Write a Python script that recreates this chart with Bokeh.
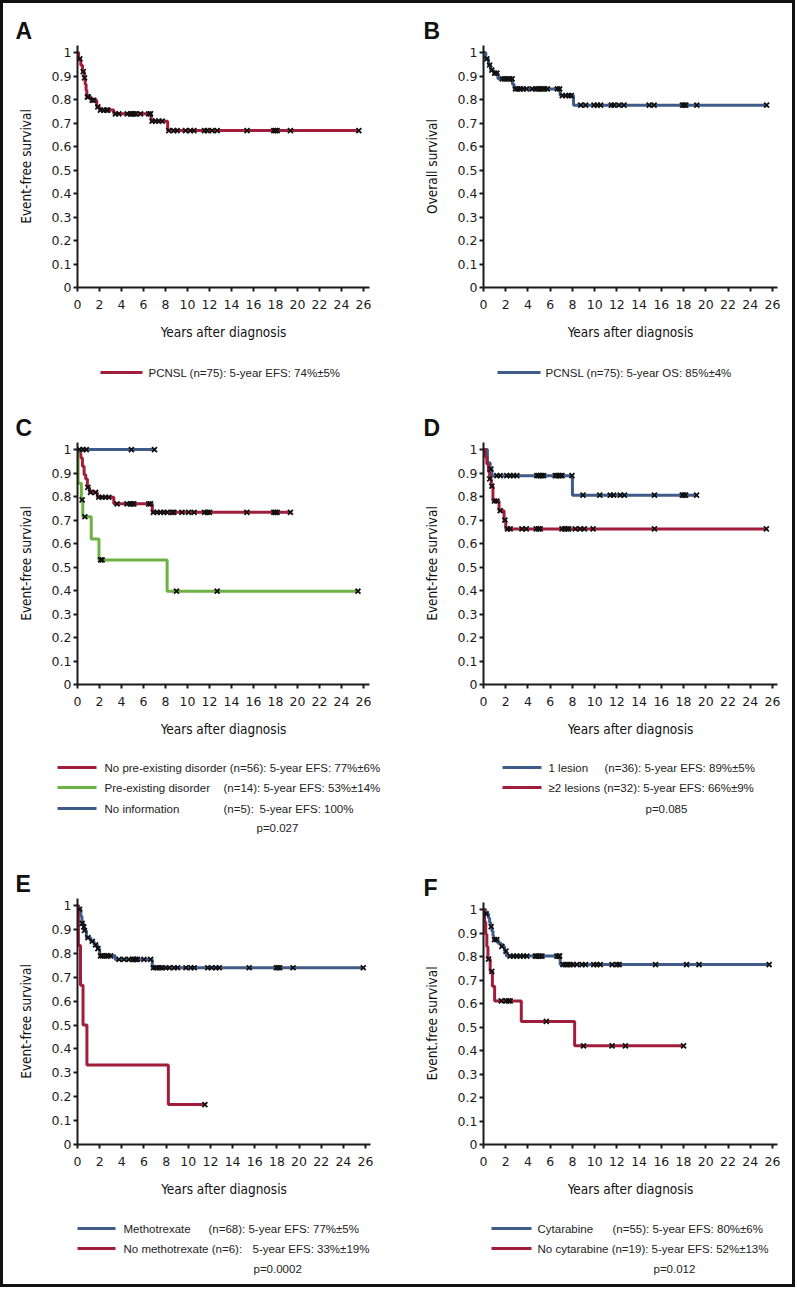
import numpy as np
from bokeh.plotting import figure
from bokeh.layouts import column, row
from bokeh.models import Range1d, FixedTicker, ColumnDataSource, Title, Plot
from bokeh.embed import file_html
from bokeh.resources import INLINE
from bokeh.core.properties import value

RED = "#A11D3C"
BLUE = "#3E5B8A"
GREEN = "#6DB142"
INK = "#1a1a1a"

x_ticks = [0, 2, 4, 6, 8, 10, 12, 14, 16, 18, 20, 22, 24, 26]
y_ticks = [0, 0.1, 0.2, 0.3, 0.4, 0.5, 0.6, 0.7, 0.8, 0.9, 1]
y_tick_labels = ["0", "0.1", "0.2", "0.3", "0.4", "0.5", "0.6", "0.7", "0.8", "0.9", "1"]
x_label = "Years after diagnosis"

# ---- Panel A: EFS, all PCNSL ----
a_times = [0, 0.1, 0.3, 0.45, 0.6, 0.7, 0.78, 0.85, 1.25, 1.75, 2.0, 3.3, 6.7, 8.2]
a_surv = [1.0, 0.973, 0.946, 0.919, 0.892, 0.865, 0.838, 0.811, 0.797, 0.769, 0.755, 0.739, 0.708, 0.668]
a_cens = [0.21, 0.52, 0.64, 0.9, 0.97, 1.33, 1.48, 1.85, 2.09, 2.39, 2.64, 2.76, 3.45, 3.76, 4.52, 4.82,
          4.97, 5.12, 5.27, 5.73, 6.48, 6.64, 6.79, 7.09, 7.39, 7.70, 8.30, 8.76, 9.06, 9.82, 10.27, 10.58,
          11.55, 11.79, 12.24, 12.70, 15.42, 17.85, 18.0, 18.15, 19.36, 25.58]
a_legend = ["PCNSL (n=75): 5-year EFS: 74%\u00b15%"]

# ---- Panel B: OS, all PCNSL ----
b_times = [0, 0.2, 0.45, 0.65, 0.9, 1.3, 2.6, 2.75, 6.9, 8.1]
b_surv = [1.0, 0.973, 0.947, 0.925, 0.912, 0.888, 0.865, 0.845, 0.817, 0.776]
b_cens = [0.3, 0.55, 0.75, 1.0, 1.2, 1.68, 1.89, 2.13, 2.37, 2.58, 2.88, 3.09, 3.33, 3.57, 3.87, 4.38,
          4.68, 4.89, 5.08, 5.29, 5.5, 5.74, 6.64, 6.85, 7.09, 7.39, 7.69, 7.9, 8.74, 9.19, 9.94, 10.24,
          10.54, 11.5, 11.74, 12.19, 12.64, 14.9, 15.35, 17.9, 18.05, 18.2, 19.19, 25.47]
b_legend = ["PCNSL (n=75): 5-year OS: 85%\u00b14%"]

# ---- Panel C: pre-existing disorder ----
c_red_t = [0, 0.15, 0.3, 0.45, 0.6, 0.75, 0.9, 1.1, 1.8, 3.3, 6.8]
c_red_s = [1.0, 0.982, 0.964, 0.929, 0.893, 0.875, 0.839, 0.818, 0.797, 0.769, 0.733]
c_red_c = [0.94, 1.18, 1.64, 1.94, 2.24, 2.55, 2.85, 3.6, 4.5, 4.8, 4.97, 5.12, 6.48, 6.64, 6.9, 7.24,
           7.55, 7.85, 8.15, 8.6, 8.76, 9.5, 10.1, 10.6, 11.55, 11.8, 12.0, 15.4, 17.85, 18.0, 18.15, 19.36]
c_grn_t = [0, 0.05, 0.35, 0.48, 1.25, 1.95, 8.15]
c_grn_s = [1.0, 0.857, 0.786, 0.714, 0.619, 0.53, 0.397]
c_grn_c = [0.42, 0.67, 2.1, 2.24, 9.0, 12.7, 25.5]
c_blu_t = [0]
c_blu_s = [1.0]
c_blu_c = [0.2, 0.5, 0.8, 4.9, 7.0]
c_names = ["No pre-existing disorder", "Pre-existing disorder", "No information"]
c_ns = ["(n=56):", "(n=14):", "(n=5):"]
c_stats = ["5-year EFS: 77%\u00b16%", "5-year EFS: 53%\u00b114%", "5-year EFS: 100%"]
c_p = "p=0.027"

# ---- Panel D: number of lesions ----
d_blu_t = [0, 0.35, 0.6, 0.75, 8.0]
d_blu_s = [1.0, 0.944, 0.917, 0.889, 0.806]
d_blu_c = [0.66, 1.2, 1.5, 2.1, 2.4, 2.7, 3.0, 4.8, 4.95, 5.1, 5.25, 5.4, 6.46, 6.6, 6.76, 6.9, 7.06,
           7.96, 8.95, 10.46, 11.4, 11.7, 12.3, 12.68, 15.38, 17.88, 18.03, 18.18, 19.17]
d_red_t = [0, 0.15, 0.3, 0.45, 0.55, 0.7, 0.85, 1.4, 1.85, 2.0]
d_red_s = [1.0, 0.969, 0.938, 0.906, 0.875, 0.844, 0.781, 0.74, 0.70, 0.662]
d_red_c = [0.56, 0.75, 0.99, 1.2, 1.5, 1.92, 2.16, 2.4, 3.46, 3.85, 4.75, 4.95, 5.1, 7.06, 7.3, 7.5,
           7.66, 8.26, 8.7, 9.07, 9.86, 15.38, 25.45]
d_names = ["1 lesion", "\u22652 lesions"]
d_ns = ["(n=36):", "(n=32):"]
d_stats = ["5-year EFS: 89%\u00b15%", "5-year EFS: 66%\u00b19%"]
d_p = "p=0.085"

# ---- Panel E: methotrexate ----
e_blu_t = [0, 0.12, 0.3, 0.4, 0.55, 0.62, 0.8, 1.2, 1.5, 1.8, 2.0, 3.4, 6.75]
e_blu_s = [1.0, 0.985, 0.956, 0.926, 0.911, 0.896, 0.866, 0.851, 0.836, 0.82, 0.79, 0.775, 0.74]
e_blu_c = [0.18, 0.42, 0.57, 0.63, 0.94, 1.33, 1.63, 1.84, 2.08, 2.24, 2.45, 2.63, 2.75, 2.99, 3.75,
           4.2, 4.65, 4.95, 5.1, 5.26, 5.4, 6.0, 6.6, 6.85, 7.07, 7.22, 7.46, 7.67, 7.98, 8.28, 8.73,
           9.03, 9.79, 10.24, 10.54, 11.75, 12.1, 12.5, 12.8, 15.5, 17.95, 18.1, 18.25, 19.46, 25.8]
e_red_t = [0, 0.08, 0.27, 0.5, 0.85, 8.2]
e_red_s = [1.0, 0.833, 0.667, 0.5, 0.333, 0.167]
e_red_c = [11.5]
e_names = ["Methotrexate", "No methotrexate"]
e_ns = ["(n=68):", "(n=6):"]
e_stats = ["5-year EFS: 77%\u00b15%", "5-year EFS: 33%\u00b119%"]
e_p = "p=0.0002"

# ---- Panel F: cytarabine ----
f_blu_t = [0, 0.2, 0.45, 0.55, 0.65, 0.75, 0.85, 0.9, 1.3, 1.6, 1.9, 2.05, 6.9]
f_blu_s = [1.0, 0.982, 0.964, 0.945, 0.927, 0.909, 0.89, 0.872, 0.857, 0.843, 0.823, 0.802, 0.766]
f_blu_c = [0.24, 0.69, 0.99, 1.2, 1.65, 2.02, 2.4, 2.7, 3.0, 3.3, 3.6, 3.9, 4.66, 4.8, 4.96, 5.1, 5.26,
           6.6, 6.76, 6.85, 7.15, 7.36, 7.57, 7.8, 8.05, 8.4, 8.87, 9.17, 9.92, 10.2, 10.5, 11.57, 12.0,
           12.2, 15.48, 18.27, 19.39, 25.7]
f_red_t = [0, 0.1, 0.2, 0.3, 0.4, 0.6, 0.8, 1.0, 3.4, 8.2]
f_red_s = [1.0, 0.947, 0.895, 0.842, 0.789, 0.737, 0.674, 0.611, 0.524, 0.42]
f_red_c = [0.45, 0.75, 1.6, 2.04, 2.25, 2.4, 5.65, 9.0, 11.57, 12.77, 18.0]
f_names = ["Cytarabine", "No cytarabine"]
f_ns = ["(n=55):", "(n=19):"]
f_stats = ["5-year EFS: 80%\u00b16%", "5-year EFS: 52%\u00b113%"]
f_p = "p=0.012"

TICK_FONT = "DejaVu Sans"
LABEL_FONT = "'DejaVu Sans Condensed', 'Liberation Sans Narrow', 'Liberation Sans', sans-serif"
LEG_FONT = "Liberation Sans"
FA = {"frame_align": False} if "frame_align" in Plot.properties() else {}


def km_figure(width, height, ml, mr, mt, mb, xend, yend, ylabel, letter, title_offset):
    p = figure(width=width, height=height, x_range=Range1d(0, xend), y_range=Range1d(0, yend),
               output_backend="svg", toolbar_location=None,
               min_border_left=ml, min_border_right=mr, min_border_top=mt, min_border_bottom=mb, **FA)
    p.xgrid.visible = False
    p.ygrid.visible = False
    p.outline_line_color = None
    p.background_fill_color = "white"
    p.border_fill_color = "white"
    p.xaxis.ticker = FixedTicker(ticks=x_ticks)
    p.yaxis.ticker = FixedTicker(ticks=y_ticks)
    p.yaxis.major_label_overrides = dict(zip(y_ticks, y_tick_labels))
    for ax in (p.xaxis[0], p.yaxis[0]):
        ax.axis_line_width = 2
        ax.axis_line_color = INK
        ax.major_tick_line_width = 2
        ax.major_tick_line_color = INK
        ax.major_tick_in = 0
        ax.major_tick_out = 4
        ax.minor_tick_line_color = None
        ax.major_label_text_font = TICK_FONT
        ax.major_label_text_font_size = "12.5px"
        ax.major_label_text_color = "#1c1c1c"
        ax.axis_label_text_font = LABEL_FONT
        ax.axis_label_text_font_size = "13.5px"
        ax.axis_label_text_font_style = "normal"
        ax.axis_label_text_color = "#111"
    p.xaxis.axis_label = x_label
    p.yaxis.axis_label = ylabel
    p.xaxis.major_label_standoff = 8
    p.xaxis.axis_label_standoff = 12
    p.yaxis.major_label_standoff = 2
    p.yaxis.axis_label_standoff = 15
    t = Title(text=letter, align="left", offset=title_offset, standoff=4,
              text_font=LEG_FONT, text_font_size="23px", text_font_style="bold", text_color="#111")
    p.add_layout(t, "above")
    return p


def add_curve(p, times, surv, cens, color):
    t = np.asarray(times, dtype=float)
    s = np.asarray(surv, dtype=float)
    c = np.asarray(cens, dtype=float)
    end = max(t.max(), c.max())
    xs = np.append(t, end)
    ys = np.append(s, s[-1])
    p.step(xs, ys, mode="after", line_color=color, line_width=3)
    idx = np.searchsorted(t, c, side="right") - 1
    return ColumnDataSource(dict(x=c, y=s[idx]))


def add_marks(p, src):
    p.scatter("x", "y", source=src, marker="x", size=7, line_width=1.8, line_color="#111")


def legend_figure(width, height, lines, texts):
    p = figure(width=width, height=height, x_range=Range1d(0, width), y_range=Range1d(height, 0),
               output_backend="svg", toolbar_location=None, x_axis_type=None, y_axis_type=None,
               min_border=0, min_border_left=0, min_border_right=0, min_border_top=0,
               min_border_bottom=0, **FA)
    p.xgrid.visible = False
    p.ygrid.visible = False
    p.outline_line_color = None
    if lines:
        lsrc = ColumnDataSource(dict(x0=[l[0] for l in lines], x1=[l[1] for l in lines],
                                     y=[l[2] for l in lines], c=[l[3] for l in lines]))
        p.segment(x0="x0", y0="y", x1="x1", y1="y", line_color="c", line_width=3, source=lsrc)
    tsrc = ColumnDataSource(dict(x=[t[0] for t in texts], y=[t[1] for t in texts],
                                 text=[t[2] for t in texts]))
    p.text(x="x", y="y", text="text", source=tsrc, text_font=value(LEG_FONT),
           text_font_size="11.5px", text_baseline="middle", text_align="left", text_color="#222")
    return p


# Row 1
pA = km_figure(397, 342, 74, 31, 42, 58, 26.55, 1.03, "Event-free survival", "A", -62)
add_marks(pA, add_curve(pA, a_times, a_surv, a_cens, RED))
pB = km_figure(392, 342, 83, 15, 42, 58, 26.45, 1.03, "Overall survival", "B", -60)
add_marks(pB, add_curve(pB, b_times, b_surv, b_cens, BLUE))

lA = legend_figure(397, 55, [(97, 139, 27, RED)], [(145, 27, a_legend[0])])
lB = legend_figure(392, 55, [(97, 140, 27, BLUE)], [(145, 27, b_legend[0])])

# Row 2
pC = km_figure(397, 345, 74, 31, 42, 61, 26.55, 1.03, "Event-free survival", "C", -62)
sr = add_curve(pC, c_red_t, c_red_s, c_red_c, RED)
sg = add_curve(pC, c_grn_t, c_grn_s, c_grn_c, GREEN)
sb = add_curve(pC, c_blu_t, c_blu_s, c_blu_c, BLUE)
for s_ in (sr, sg, sb):
    add_marks(pC, s_)
pD = km_figure(392, 345, 83, 15, 42, 61, 26.45, 1.03, "Event-free survival", "D", -60)
sb = add_curve(pD, d_blu_t, d_blu_s, d_blu_c, BLUE)
sr = add_curve(pD, d_red_t, d_red_s, d_red_c, RED)
for s_ in (sb, sr):
    add_marks(pD, s_)

lC = legend_figure(397, 95,
                   [(54, 93, 22, RED), (54, 93, 42, GREEN), (54, 93, 63, BLUE)],
                   [(101, 22, " ".join([c_names[0], c_ns[0], c_stats[0]])),
                    (101, 42, c_names[1]), (220, 42, " ".join([c_ns[1], c_stats[1]])),
                    (101, 63, c_names[2]), (220, 63, c_ns[2]), (256, 63, c_stats[2]),
                    (253, 82, c_p)])
lD = legend_figure(392, 95,
                   [(102, 141, 22, BLUE), (102, 141, 42, RED)],
                   [(148, 22, d_names[0]), (204, 22, " ".join([d_ns[0], d_stats[0]])),
                    (148, 42, " ".join([d_names[1], d_ns[1], d_stats[1]])),
                    (245, 63, d_p)])

# Row 3
pE = km_figure(397, 365, 74, 30, 58, 61, 26.45, 1.03, "Event-free survival", "E", -62)
sb = add_curve(pE, e_blu_t, e_blu_s, e_blu_c, BLUE)
sr = add_curve(pE, e_red_t, e_red_s, e_red_c, RED)
for s_ in (sb, sr):
    add_marks(pE, s_)
pF = km_figure(392, 365, 83, 15, 62, 61, 26.45, 1.03, "Event.free survival", "F", -60)
sb = add_curve(pF, f_blu_t, f_blu_s, f_blu_c, BLUE)
sr = add_curve(pF, f_red_t, f_red_s, f_red_c, RED)
for s_ in (sb, sr):
    add_marks(pF, s_)

lE = legend_figure(397, 79,
                   [(74, 112, 23, BLUE), (74, 112, 43, RED)],
                   [(120, 23, e_names[0]), (205, 23, " ".join([e_ns[0], e_stats[0]])),
                    (120, 43, " ".join([e_names[1], e_ns[1]])), (249, 43, e_stats[1]),
                    (250, 63, e_p)])
lF = legend_figure(392, 79,
                   [(91, 131, 23, BLUE), (91, 131, 43, RED)],
                   [(137, 23, f_names[0]), (212, 23, " ".join([f_ns[0], f_stats[0]])),
                    (137, 43, " ".join([f_names[1], f_ns[1], f_stats[1]])),
                    (253, 63, f_p)])

left = column(pA, lA, pC, lC, pE, lE, spacing=0)
right = column(pB, lB, pD, lD, pF, lF, spacing=0)
root = row(left, right, spacing=0, styles={"border": "3px solid #111", "background-color": "white"})

open("out.html", "w").write(file_html(root, INLINE))
